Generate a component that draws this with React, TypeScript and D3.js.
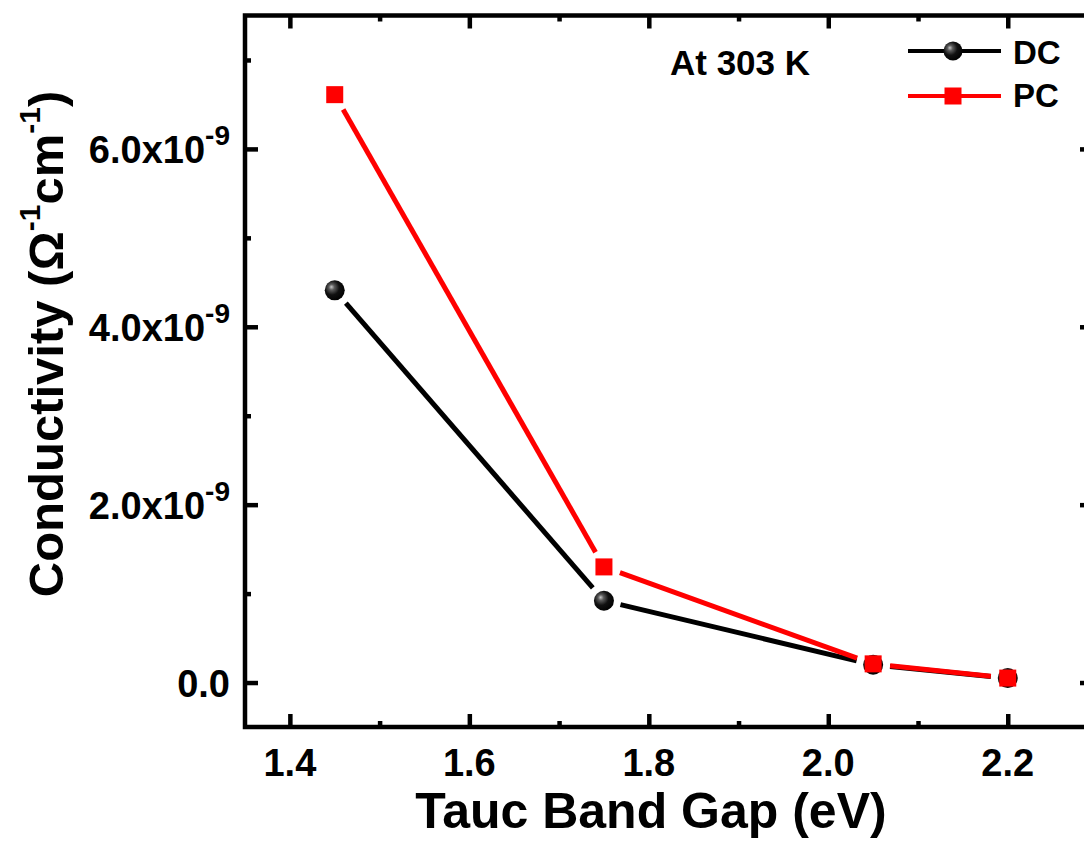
import React, { useEffect, useRef } from "react";
import * as d3 from "d3";

// values
const bandGaps = [1.45, 1.75, 2.05, 2.2];
const dcValues = [4.41e-9, 0.92e-9, 0.2e-9, 0.05e-9];
const pcValues = [6.61e-9, 1.3e-9, 0.21e-9, 0.05e-9];

const xTicks = [1.4, 1.6, 1.8, 2.0, 2.2];
const xMinorTicks = [1.5, 1.7, 1.9, 2.1];
const yTicks = [0, 2e-9, 4e-9, 6e-9];
const yMinorTicks = [1e-9, 3e-9, 5e-9, 7e-9];
const yTickLabels = ["0.0", "2.0x10", "4.0x10", "6.0x10"];
const yTickExponents = ["", "-9", "-9", "-9"];

const FONT = "'Liberation Sans', Arial, sans-serif";

const App = () => {
  const ref = useRef<SVGSVGElement>(null);

  useEffect(() => {
    const svg = d3.select(ref.current);
    svg.selectAll("*").remove();

    const left = 245,
      top = 15.5,
      bottom = 727,
      right = 1093;

    const x = d3.scaleLinear().domain([1.35, 2.295]).range([left, right]);
    const y = d3.scaleLinear().domain([-0.5e-9, 7.5e-9]).range([bottom, top]);

    const defs = svg.append("defs");
    const grad = defs
      .append("radialGradient")
      .attr("id", "ball")
      .attr("cx", "40%")
      .attr("cy", "40%")
      .attr("r", "65%")
      .attr("fx", "33%")
      .attr("fy", "33%");
    grad.append("stop").attr("offset", "0%").attr("stop-color", "#c8c8c8");
    grad.append("stop").attr("offset", "22%").attr("stop-color", "#5a5a5a");
    grad.append("stop").attr("offset", "55%").attr("stop-color", "#111");
    grad.append("stop").attr("offset", "100%").attr("stop-color", "#000");

    const sw = 4.5;

    // ticks (all inward, on four sides)
    const addAxis = (axis: any, tx: number, ty: number) => {
      const g = svg
        .append("g")
        .attr("transform", `translate(${tx},${ty})`)
        .call(axis);
      g.select(".domain").remove();
      g.selectAll("line").attr("stroke", "#000").attr("stroke-width", sw);
      g.selectAll("text").remove();
    };
    addAxis(d3.axisBottom(x).tickValues(xTicks).tickSize(-13), 0, bottom);
    addAxis(d3.axisBottom(x).tickValues(xMinorTicks).tickSize(-6), 0, bottom);
    addAxis(d3.axisTop(x).tickValues(xTicks).tickSize(-13), 0, top);
    addAxis(d3.axisTop(x).tickValues(xMinorTicks).tickSize(-6), 0, top);
    addAxis(d3.axisLeft(y).tickValues(yTicks).tickSize(-13), left, 0);
    addAxis(d3.axisLeft(y).tickValues(yMinorTicks).tickSize(-6), left, 0);
    addAxis(d3.axisRight(y).tickValues(yTicks).tickSize(-13), right, 0);
    addAxis(d3.axisRight(y).tickValues(yMinorTicks).tickSize(-6), right, 0);

    svg
      .append("rect")
      .attr("x", left)
      .attr("y", top)
      .attr("width", right - left)
      .attr("height", bottom - top)
      .attr("fill", "none")
      .attr("stroke", "#000")
      .attr("stroke-width", sw);

    // x tick labels
    svg
      .append("g")
      .selectAll("text")
      .data(xTicks)
      .enter()
      .append("text")
      .attr("x", (d) => x(d))
      .attr("y", 776)
      .attr("text-anchor", "middle")
      .attr("font-family", FONT)
      .attr("font-weight", "bold")
      .attr("font-size", 38)
      .text((d) => d.toFixed(1));

    // y tick labels
    const yl = svg
      .append("g")
      .selectAll("text")
      .data(yTicks)
      .enter()
      .append("text")
      .attr("x", 230)
      .attr("y", (d) => y(d) + 14)
      .attr("text-anchor", "end")
      .attr("font-family", FONT)
      .attr("font-weight", "bold")
      .attr("font-size", 38);
    yl.append("tspan").text((d, i) => yTickLabels[i]);
    yl.append("tspan")
      .attr("dy", -18)
      .attr("font-size", 28)
      .text((d, i) => yTickExponents[i]);

    // axis titles
    svg
      .append("text")
      .attr("x", 651)
      .attr("y", 828)
      .attr("text-anchor", "middle")
      .attr("font-family", FONT)
      .attr("font-weight", "bold")
      .attr("font-size", 50)
      .text("Tauc Band Gap (eV)");

    const yt = svg
      .append("text")
      .attr("transform", "translate(63,344) rotate(-90)")
      .attr("text-anchor", "middle")
      .attr("font-family", FONT)
      .attr("font-weight", "bold")
      .attr("font-size", 49);
    yt.append("tspan").text("Conductivity (Ω");
    yt.append("tspan").attr("dy", -23).attr("font-size", 30).text("-1");
    yt.append("tspan").attr("dy", 23).text("cm");
    yt.append("tspan").attr("dy", -23).attr("font-size", 30).text("-1");
    yt.append("tspan").attr("dy", 23).text(")");

    // series lines with gaps at markers
    const gap = 17;
    const drawSeries = (vals: number[], color: string) => {
      const pts = bandGaps.map((b, i) => [x(b), y(vals[i])]);
      const segs = d3.pairs(pts).map(([a, b]) => {
        const dx = b[0] - a[0],
          dy = b[1] - a[1];
        const len = Math.sqrt(dx * dx + dy * dy);
        const ux = dx / len,
          uy = dy / len;
        return [
          [a[0] + ux * gap, a[1] + uy * gap],
          [b[0] - ux * gap, b[1] - uy * gap],
          len
        ];
      });
      svg
        .append("g")
        .selectAll("line")
        .data(segs.filter((s: any) => s[2] > gap * 2))
        .enter()
        .append("line")
        .attr("x1", (d: any) => d[0][0])
        .attr("y1", (d: any) => d[0][1])
        .attr("x2", (d: any) => d[1][0])
        .attr("y2", (d: any) => d[1][1])
        .attr("stroke", color)
        .attr("stroke-width", 5);
    };
    drawSeries(dcValues, "#000");
    drawSeries(pcValues, "#ff0000");

    svg
      .append("g")
      .selectAll("circle")
      .data(dcValues)
      .enter()
      .append("circle")
      .attr("cx", (d, i) => x(bandGaps[i]))
      .attr("cy", (d) => y(d))
      .attr("r", 10)
      .attr("fill", "url(#ball)");

    const sq = 17;
    svg
      .append("g")
      .selectAll("rect")
      .data(pcValues)
      .enter()
      .append("rect")
      .attr("x", (d, i) => x(bandGaps[i]) - sq / 2)
      .attr("y", (d) => y(d) - sq / 2)
      .attr("width", sq)
      .attr("height", sq)
      .attr("fill", "#ff0000");

    // annotation
    svg
      .append("text")
      .attr("x", 670)
      .attr("y", 75)
      .attr("font-family", FONT)
      .attr("font-weight", "bold")
      .attr("font-size", 35)
      .text("At 303 K");

    // legend
    const lg = svg.append("g");
    lg.append("line")
      .attr("x1", 908)
      .attr("x2", 1001)
      .attr("y1", 51)
      .attr("y2", 51)
      .attr("stroke", "#000")
      .attr("stroke-width", 4);
    lg.append("circle")
      .attr("cx", 953)
      .attr("cy", 51)
      .attr("r", 9.5)
      .attr("fill", "url(#ball)");
    lg.append("line")
      .attr("x1", 908)
      .attr("x2", 1001)
      .attr("y1", 96)
      .attr("y2", 96)
      .attr("stroke", "#ff0000")
      .attr("stroke-width", 4);
    lg.append("rect")
      .attr("x", 953 - 8.5)
      .attr("y", 96 - 8.5)
      .attr("width", 17)
      .attr("height", 17)
      .attr("fill", "#ff0000");
    lg.selectAll("text")
      .data(["DC", "PC"])
      .enter()
      .append("text")
      .attr("x", 1013)
      .attr("y", (d, i) => 64 + i * 43)
      .attr("font-family", FONT)
      .attr("font-weight", "bold")
      .attr("font-size", 33)
      .text((d) => d);
  }, []);

  return (
    <svg
      ref={ref}
      width="1084"
      height="844"
      style={{ position: "absolute", left: 0, top: 0, background: "#fff" }}
    />
  );
};

export default App;
